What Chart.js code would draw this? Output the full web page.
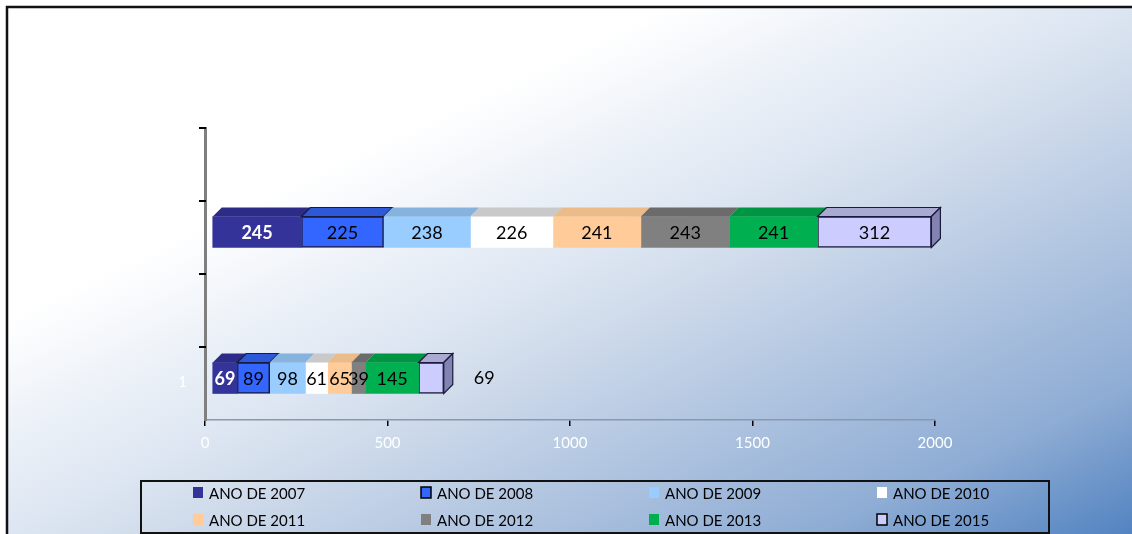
<!DOCTYPE html>
<html>
<head>
<meta charset="utf-8">
<script src="https://cdn.jsdelivr.net/npm/chart.js@4.4.1/dist/chart.umd.min.js"></script>
<style>
  html, body { margin: 0; padding: 0; background: #fff; }
  #wrap { width: 1132px; height: 534px; }
</style>
</head>
<body>
<div id="wrap"><canvas id="anoChart" width="1132" height="534"></canvas></div>
<script>
// categorias (de cima para baixo)
const categories = ['', '1'];
const seriesNames = ['ANO DE 2007', 'ANO DE 2008', 'ANO DE 2009', 'ANO DE 2010',
                     'ANO DE 2011', 'ANO DE 2012', 'ANO DE 2013', 'ANO DE 2015'];
const ano2007 = [245, 69];
const ano2008 = [225, 89];
const ano2009 = [238, 98];
const ano2010 = [226, 61];
const ano2011 = [241, 65];
const ano2012 = [243, 39];
const ano2013 = [241, 145];
const ano2015 = [312, 69];
const xTicks = [0, 500, 1000, 1500, 2000];

// cores: frente, topo
const frontColors = ['#333399', '#3366FF', '#99CCFF', '#FFFFFF', '#FFCC99', '#808080', '#00B050', '#CCCCFF'];
const topColors   = ['#2c2c88', '#2d58d8', '#86b2de', '#c9c9c9', '#ecbb8a', '#6b6b6b', '#009543', '#a9a9d2'];
const sideColor = '#8383b3';
const borderWidths = [0, 1.5, 0, 0, 0, 0, 0, 1.5];

const depth = 9, shiftX = 7, shiftY = 31;

Chart.defaults.font.family = 'Lato, "DejaVu Sans", sans-serif';

// fundo com gradiente e moldura
const backgroundPlugin = {
    id: 'background',
    beforeDraw(chart) {
        const ctx = chart.ctx;
        ctx.save();
        ctx.fillStyle = '#ffffff';
        ctx.fillRect(0, 0, 1132, 534);
        // isolinhas paralelas à diagonal secundária
        const g = ctx.createLinearGradient(0, 0, 412, 874);
        g.addColorStop(0, '#ffffff');
        g.addColorStop(0.3, '#ffffff');
        g.addColorStop(0.5, '#dde6f2');
        g.addColorStop(0.56, '#d2ddec');
        g.addColorStop(0.86, '#8eacd4');
        g.addColorStop(1, '#5283c1');
        ctx.fillStyle = g;
        ctx.fillRect(7, 7, 1125, 527);
        ctx.strokeStyle = '#111';
        ctx.lineWidth = 2.5;
        ctx.beginPath();
        ctx.moveTo(7, 534);
        ctx.lineTo(7, 7);
        ctx.lineTo(1132, 7);
        ctx.stroke();
        ctx.restore();
    }
};

// barras em 3D + rótulos
const bars3dPlugin = {
    id: 'bars3d',
    beforeDatasetsDraw(chart) {
        chart.ctx.save();
        chart.ctx.translate(shiftX, shiftY);
    },
    afterDatasetsDraw(chart) {
        const ctx = chart.ctx;
        const last = chart.data.datasets.length - 1;
        chart.data.datasets.forEach((ds, i) => {
            const meta = chart.getDatasetMeta(i);
            meta.data.forEach((bar, j) => {
                const p = bar.getProps(['x', 'y', 'base', 'height'], true);
                const top = p.y - p.height / 2, bottom = p.y + p.height / 2;
                const left = Math.min(p.base, p.x), right = Math.max(p.base, p.x);
                ctx.fillStyle = topColors[i];
                ctx.beginPath();
                ctx.moveTo(left, top);
                ctx.lineTo(right, top);
                ctx.lineTo(right + depth, top - depth);
                ctx.lineTo(left + depth, top - depth);
                ctx.closePath();
                ctx.fill();
                if (borderWidths[i]) {
                    ctx.strokeStyle = '#1a1a3a';
                    ctx.lineWidth = 1.2;
                    ctx.stroke();
                }
                if (i === last) {
                    ctx.fillStyle = sideColor;
                    ctx.beginPath();
                    ctx.moveTo(right, top);
                    ctx.lineTo(right + depth, top - depth);
                    ctx.lineTo(right + depth, bottom - depth);
                    ctx.lineTo(right, bottom);
                    ctx.closePath();
                    ctx.fill();
                    ctx.strokeStyle = '#1a1a3a';
                    ctx.lineWidth = 1.2;
                    ctx.stroke();
                }
                // rótulo
                const txt = String(ds.data[j]);
                ctx.font = (i === 0 ? 'bold ' : '') + '18px Lato, sans-serif';
                ctx.fillStyle = i === 0 ? '#ffffff' : '#000000';
                ctx.textBaseline = 'middle';
                if (i === last && right - left < 40) {
                    ctx.textAlign = 'left';
                    ctx.fillText(txt, right + 30, p.y);
                } else {
                    ctx.textAlign = 'center';
                    ctx.fillText(txt, (left + right) / 2, p.y + 1);
                }
            });
        });
        ctx.restore();
    },
    afterDraw(chart) {
        // marcas do eixo vertical
        const ctx = chart.ctx;
        const ys = chart.scales.y;
        ctx.save();
        ctx.strokeStyle = '#000';
        ctx.lineWidth = 2;
        for (let k = 0; k < 4; k++) {
            const yy = ys.top + k * (ys.bottom - ys.top) / 4;
            ctx.beginPath();
            ctx.moveTo(ys.right - 6, yy);
            ctx.lineTo(ys.right + 1, yy);
            ctx.stroke();
        }
        ctx.restore();
    }
};

// legenda com moldura
const legendPlugin = {
    id: 'boxLegend',
    afterDraw(chart) {
        const ctx = chart.ctx;
        ctx.save();
        ctx.strokeStyle = '#111';
        ctx.lineWidth = 2;
        ctx.strokeRect(141, 481, 908, 52);
        const colX = [193, 421, 649, 877];
        const rowY = [493, 520];
        ctx.font = '15px Lato, sans-serif';
        ctx.textBaseline = 'middle';
        ctx.textAlign = 'left';
        chart.data.datasets.forEach((ds, i) => {
            const x = colX[i % 4], y = rowY[Math.floor(i / 4)];
            ctx.fillStyle = ds.backgroundColor;
            ctx.fillRect(x, y - 6, 10, 11);
            if (borderWidths[i]) {
                ctx.strokeStyle = '#000';
                ctx.lineWidth = 1.5;
                ctx.strokeRect(x, y - 6, 10, 11);
            }
            ctx.fillStyle = '#000';
            ctx.fillText(ds.label, x + 16, y + 1);
        });
        ctx.restore();
    }
};

const seriesValues = [ano2007, ano2008, ano2009, ano2010, ano2011, ano2012, ano2013, ano2015];

const anoChart = new Chart(document.getElementById('anoChart').getContext('2d'), {
    type: 'bar',
    data: {
        labels: categories,
        datasets: seriesValues.map((vals, i) => ({
            label: seriesNames[i],
            data: vals,
            backgroundColor: frontColors[i],
            borderColor: '#1a1a3a',
            borderWidth: borderWidths[i],
            borderSkipped: false,
            barThickness: 31,
            clip: false
        }))
    },
    options: {
        indexAxis: 'y',
        responsive: false,
        animation: false,
        layout: { padding: { left: 165, right: 197, top: 128, bottom: 84 } },
        scales: {
            x: {
                stacked: true,
                min: 0,
                max: 2000,
                afterBuildTicks: s => { s.ticks = xTicks.map(v => ({ value: v })); },
                afterFit: s => { s.height = 30; },
                border: { display: true, color: '#8a98ad', width: 1.5 },
                grid: { drawOnChartArea: false, drawTicks: true, tickLength: 6, color: '#000', lineWidth: 1.5 },
                ticks: { color: '#ffffff', font: { size: 15 }, padding: 8, callback: v => String(v) }
            },
            y: {
                stacked: true,
                afterFit: s => { s.width = 40; },
                border: { display: true, color: '#7f7f7f', width: 3 },
                grid: { display: false },
                ticks: { color: '#ffffff', font: { size: 15 }, padding: 10, labelOffset: 35 }
            }
        },
        plugins: {
            legend: { display: false },
            tooltip: { enabled: false },
            title: { display: false }
        }
    },
    plugins: [backgroundPlugin, bars3dPlugin, legendPlugin]
});
</script>
</body>
</html>
